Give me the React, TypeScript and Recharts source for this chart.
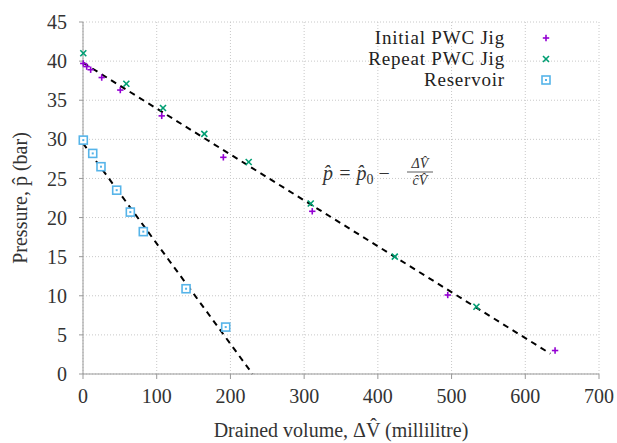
import { ScatterChart, Scatter, XAxis, YAxis, CartesianGrid } from 'recharts';

// Drained volume (ml) vs pressure (bar) readings
const initialVolume = [0.4, 5, 10.4, 25.4, 50.6, 106.8, 190.4, 311, 494.8, 640.4];
const initialPressure = [39.7, 39.3, 38.9, 37.9, 36.3, 33.0, 27.7, 20.8, 10.1, 3.0];

const repeatVolume = [0.4, 58.8, 108.5, 164.6, 224.8, 309, 423, 533.7];
const repeatPressure = [41.0, 37.1, 34.0, 30.7, 27.1, 21.8, 15.0, 8.6];

const reservoirVolume = [0.4, 13.2, 24.4, 45.7, 64.2, 81.8, 139.8, 193.6];
const reservoirPressure = [29.9, 28.2, 26.5, 23.5, 20.7, 18.2, 10.9, 6.0];

// linear fits, end points only
const jigFitVolume = [0, 634];
const jigFitPressure = [39.8, 2.6];
const reservoirFitVolume = [0, 230];
const reservoirFitPressure = [29.5, 0];

const xTicks = [0, 100, 200, 300, 400, 500, 600, 700];
const yTicks = [0, 5, 10, 15, 20, 25, 30, 35, 40, 45];

const PURPLE = '#9400d3';
const GREEN = '#009e73';
const BLUE = '#56b4e9';
const SERIF = '"Liberation Serif", "DejaVu Serif", serif';

const toPoints = (xs: number[], ys: number[]) => xs.map((x, i) => ({ x, y: ys[i] }));

const PlusMark = (props: any) => {
  const { cx, cy } = props;
  return (
    <g stroke={PURPLE} strokeWidth={1.6}>
      <line x1={cx - 3.2} y1={cy} x2={cx + 3.2} y2={cy} />
      <line x1={cx} y1={cy - 3.2} x2={cx} y2={cy + 3.2} />
    </g>
  );
};

const CrossMark = (props: any) => {
  const { cx, cy } = props;
  return (
    <g stroke={GREEN} strokeWidth={1.6}>
      <line x1={cx - 3} y1={cy - 3} x2={cx + 3} y2={cy + 3} />
      <line x1={cx - 3} y1={cy + 3} x2={cx + 3} y2={cy - 3} />
    </g>
  );
};

const SquareMark = (props: any) => {
  const { cx, cy } = props;
  return (
    <g>
      <rect x={cx - 4} y={cy - 4} width={8} height={8} fill="#fff" stroke={BLUE} strokeWidth={1.6} />
      <rect x={cx - 1} y={cy - 1} width={2} height={2} fill={BLUE} />
    </g>
  );
};

const NoMark = () => <g />;

const legendRows = [
  { label: 'Initial PWC Jig', Mark: PlusMark },
  { label: 'Repeat PWC Jig', Mark: CrossMark },
  { label: 'Reservoir', Mark: SquareMark },
];

export default function App() {
  return (
    <div style={{ position: 'absolute', left: 0, top: 0, width: 617, height: 443, background: '#fff' }}>
      <ScatterChart width={617} height={443} margin={{ top: 22, right: 18, left: 0, bottom: 0 }}>
        <CartesianGrid stroke="#c8c8c8" strokeDasharray="1 2" />
        <XAxis
          type="number"
          dataKey="x"
          domain={[0, 700]}
          ticks={xTicks}
          height={69}
          stroke="#999"
          tickSize={5}
          tick={{ fill: '#333', fontSize: 20, fontFamily: SERIF }}
          tickMargin={10}
          label={{
            value: 'Drained volume, \u0394V\u0302 (millilitre)',
            position: 'insideBottom',
            offset: 6,
            fill: '#333',
            fontSize: 20,
            fontFamily: SERIF,
          }}
        />
        <YAxis
          type="number"
          dataKey="y"
          domain={[0, 45]}
          ticks={yTicks}
          width={83}
          stroke="#999"
          tickSize={4}
          tick={{ fill: '#333', fontSize: 20, fontFamily: SERIF }}
          tickMargin={12}
          label={{
            value: 'Pressure, p\u0302 (bar)',
            angle: -90,
            position: 'insideLeft',
            offset: 20,
            style: { textAnchor: 'middle' },
            fill: '#333',
            fontSize: 20,
            fontFamily: SERIF,
          }}
        />
        <Scatter
          data={toPoints(jigFitVolume, jigFitPressure)}
          line={{ stroke: '#000', strokeWidth: 2, strokeDasharray: '6 5' }}
          shape={NoMark}
          isAnimationActive={false}
        />
        <Scatter
          data={toPoints(reservoirFitVolume, reservoirFitPressure)}
          line={{ stroke: '#000', strokeWidth: 2, strokeDasharray: '6 5' }}
          shape={NoMark}
          isAnimationActive={false}
        />
        <Scatter data={toPoints(initialVolume, initialPressure)} shape={PlusMark} isAnimationActive={false} />
        <Scatter data={toPoints(repeatVolume, repeatPressure)} shape={CrossMark} isAnimationActive={false} />
        <Scatter data={toPoints(reservoirVolume, reservoirPressure)} shape={SquareMark} isAnimationActive={false} />
      </ScatterChart>

      {/* legend, top right inside the plot */}
      <svg style={{ position: 'absolute', left: 0, top: 0 }} width={617} height={443} pointerEvents="none">
        {legendRows.map(({ label, Mark }, i) => (
          <g key={label}>
            <text
              x={505}
              y={44 + i * 21}
              textAnchor="end"
              fontSize={19}
              letterSpacing={0.8}
              fontFamily={SERIF}
              fill="#222"
            >
              {label}
            </text>
            <Mark cx={546} cy={38 + i * 21} />
          </g>
        ))}
        {/* fit equation */}
        <g fontFamily={SERIF} fill="#333" fontStyle="italic">
          <text x={323} y={180} fontSize={20}>
            {'p\u0302 = p\u0302'}
            <tspan fontSize={14} dy={4} fontStyle="normal">0</tspan>
            <tspan dy={-4} fontStyle="normal">{' \u2212'}</tspan>
          </text>
          <text x={420} y={168} fontSize={14} textAnchor="middle">{'\u0394V\u0302'}</text>
          <line x1={407} y1={172} x2={433} y2={172} stroke="#333" strokeWidth={0.8} />
          <text x={420} y={185} fontSize={14} textAnchor="middle">{'c\u0302V\u0302'}</text>
        </g>
      </svg>
    </div>
  );
}
